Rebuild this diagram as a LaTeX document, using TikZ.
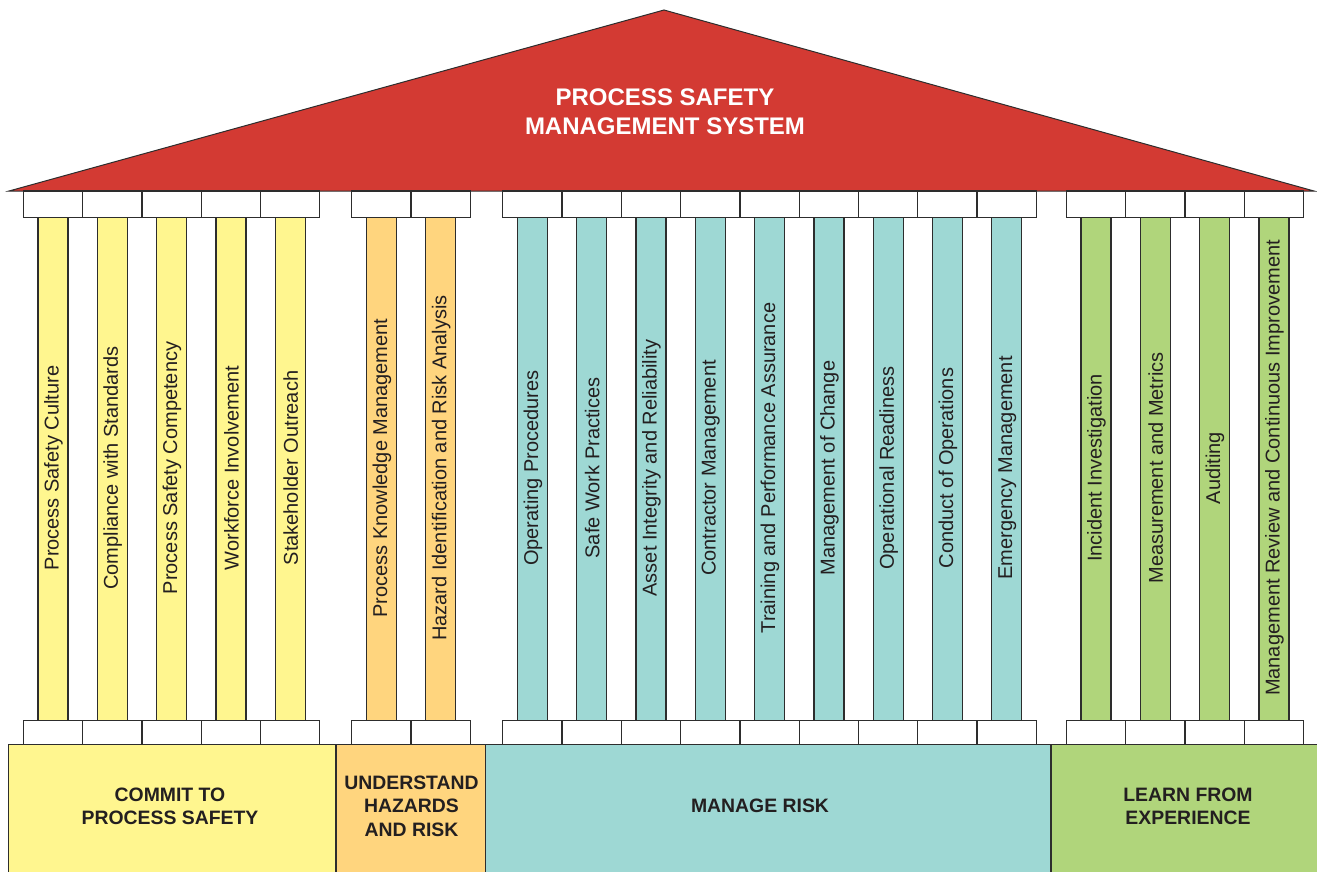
\documentclass[tikz,border=0pt]{standalone}
\usepackage{fontspec}
\setmainfont{Liberation Sans}
\definecolor{roofred}{RGB}{211,58,51}
\definecolor{pyellow}{RGB}{255,246,143}
\definecolor{porange}{RGB}{255,213,126}
\definecolor{pteal}{RGB}{158,216,212}
\definecolor{pgreen}{RGB}{176,213,123}
\definecolor{edge}{RGB}{45,45,45}
\definecolor{ink}{RGB}{35,31,32}
\newcommand{\capw}{59.3}
\newcommand{\mkpillar}[4]{%
  \draw[capbox] (#2,191) rectangle ++(\capw,26.7);
  \draw[capbox] (#2,720.7) rectangle ++(\capw,24);
  \draw[shaft, fill=#3] ({#2+\capw/2-15},217.7) rectangle ++(30,503);
  \node[plabel] (#1) at ({#2+\capw/2+0.5},468) {#4};
}
\begin{document}
\begin{tikzpicture}[x=1pt,y=-1pt,
  capbox/.style={draw=edge, line width=1.3pt, fill=white},
  shaft/.style={draw=edge, line width=1.3pt},
  plabel/.style={rotate=90, font=\fontsize{20}{24}\selectfont, text=ink, inner sep=0pt},
  basebox/.style={draw=edge, line width=1.3pt},
  basetext/.style={font=\fontsize{19.4}{23.5}\selectfont\bfseries, text=ink, align=center, inner sep=0pt},
  rooftext/.style={font=\fontsize{24}{29}\selectfont\bfseries, text=white, align=center, inner sep=0pt}]
\useasboundingbox (0,0) rectangle (1317,871);
% roof
\fill[roofred] (9,191) -- (664,10) -- (1314,191) -- cycle;
\draw[edge, line width=1pt] (9,191) -- (664,10) -- (1314,191) -- cycle;
\node[rooftext] (roof) at (665,111.5) {PROCESS SAFETY\\MANAGEMENT SYSTEM};
% group 1
\foreach \lab [count=\i from 0] in {Process Safety Culture, Compliance with Standards, Process Safety Competency, Workforce Involvement, Stakeholder Outreach}
  {\mkpillar{ga\i}{23.3+\i*\capw}{pyellow}{\lab}}
% group 2
\foreach \lab [count=\i from 0] in {Process Knowledge Management, Hazard Identification and Risk Analysis}
  {\mkpillar{gb\i}{351.7+\i*\capw}{porange}{\lab}}
% group 3
\foreach \lab [count=\i from 0] in {Operating Procedures, Safe Work Practices, Asset Integrity and Reliability, Contractor Management, Training and Performance Assurance, Management of Change, Operational Readiness, Conduct of Operations, Emergency Management}
  {\mkpillar{gc\i}{502.7+\i*\capw}{pteal}{\lab}}
% group 4
\foreach \lab [count=\i from 0] in {Incident Investigation, Measurement and Metrics, Auditing, Management Review and Continuous Improvement}
  {\mkpillar{gd\i}{1066.3+\i*\capw}{pgreen}{\lab}}
% base blocks
\draw[basebox, fill=pyellow] (8.3,744.7) rectangle (336,880);
\draw[basebox, fill=porange] (336,744.7) rectangle (485.7,880);
\draw[basebox, fill=pteal] (485.7,744.7) rectangle (1051,880);
\draw[basebox, fill=pgreen] (1051,744.7) rectangle (1325,880);
\node[basetext] (commit) at (170,806.5) {COMMIT TO\\PROCESS SAFETY};
\node[basetext] (understand) at (411.5,806) {UNDERSTAND\\HAZARDS\\AND RISK};
\node[basetext] (manage) at (760,806) {MANAGE RISK};
\node[basetext] (learn) at (1188,806.5) {LEARN FROM\\EXPERIENCE};
\end{tikzpicture}
\end{document}
